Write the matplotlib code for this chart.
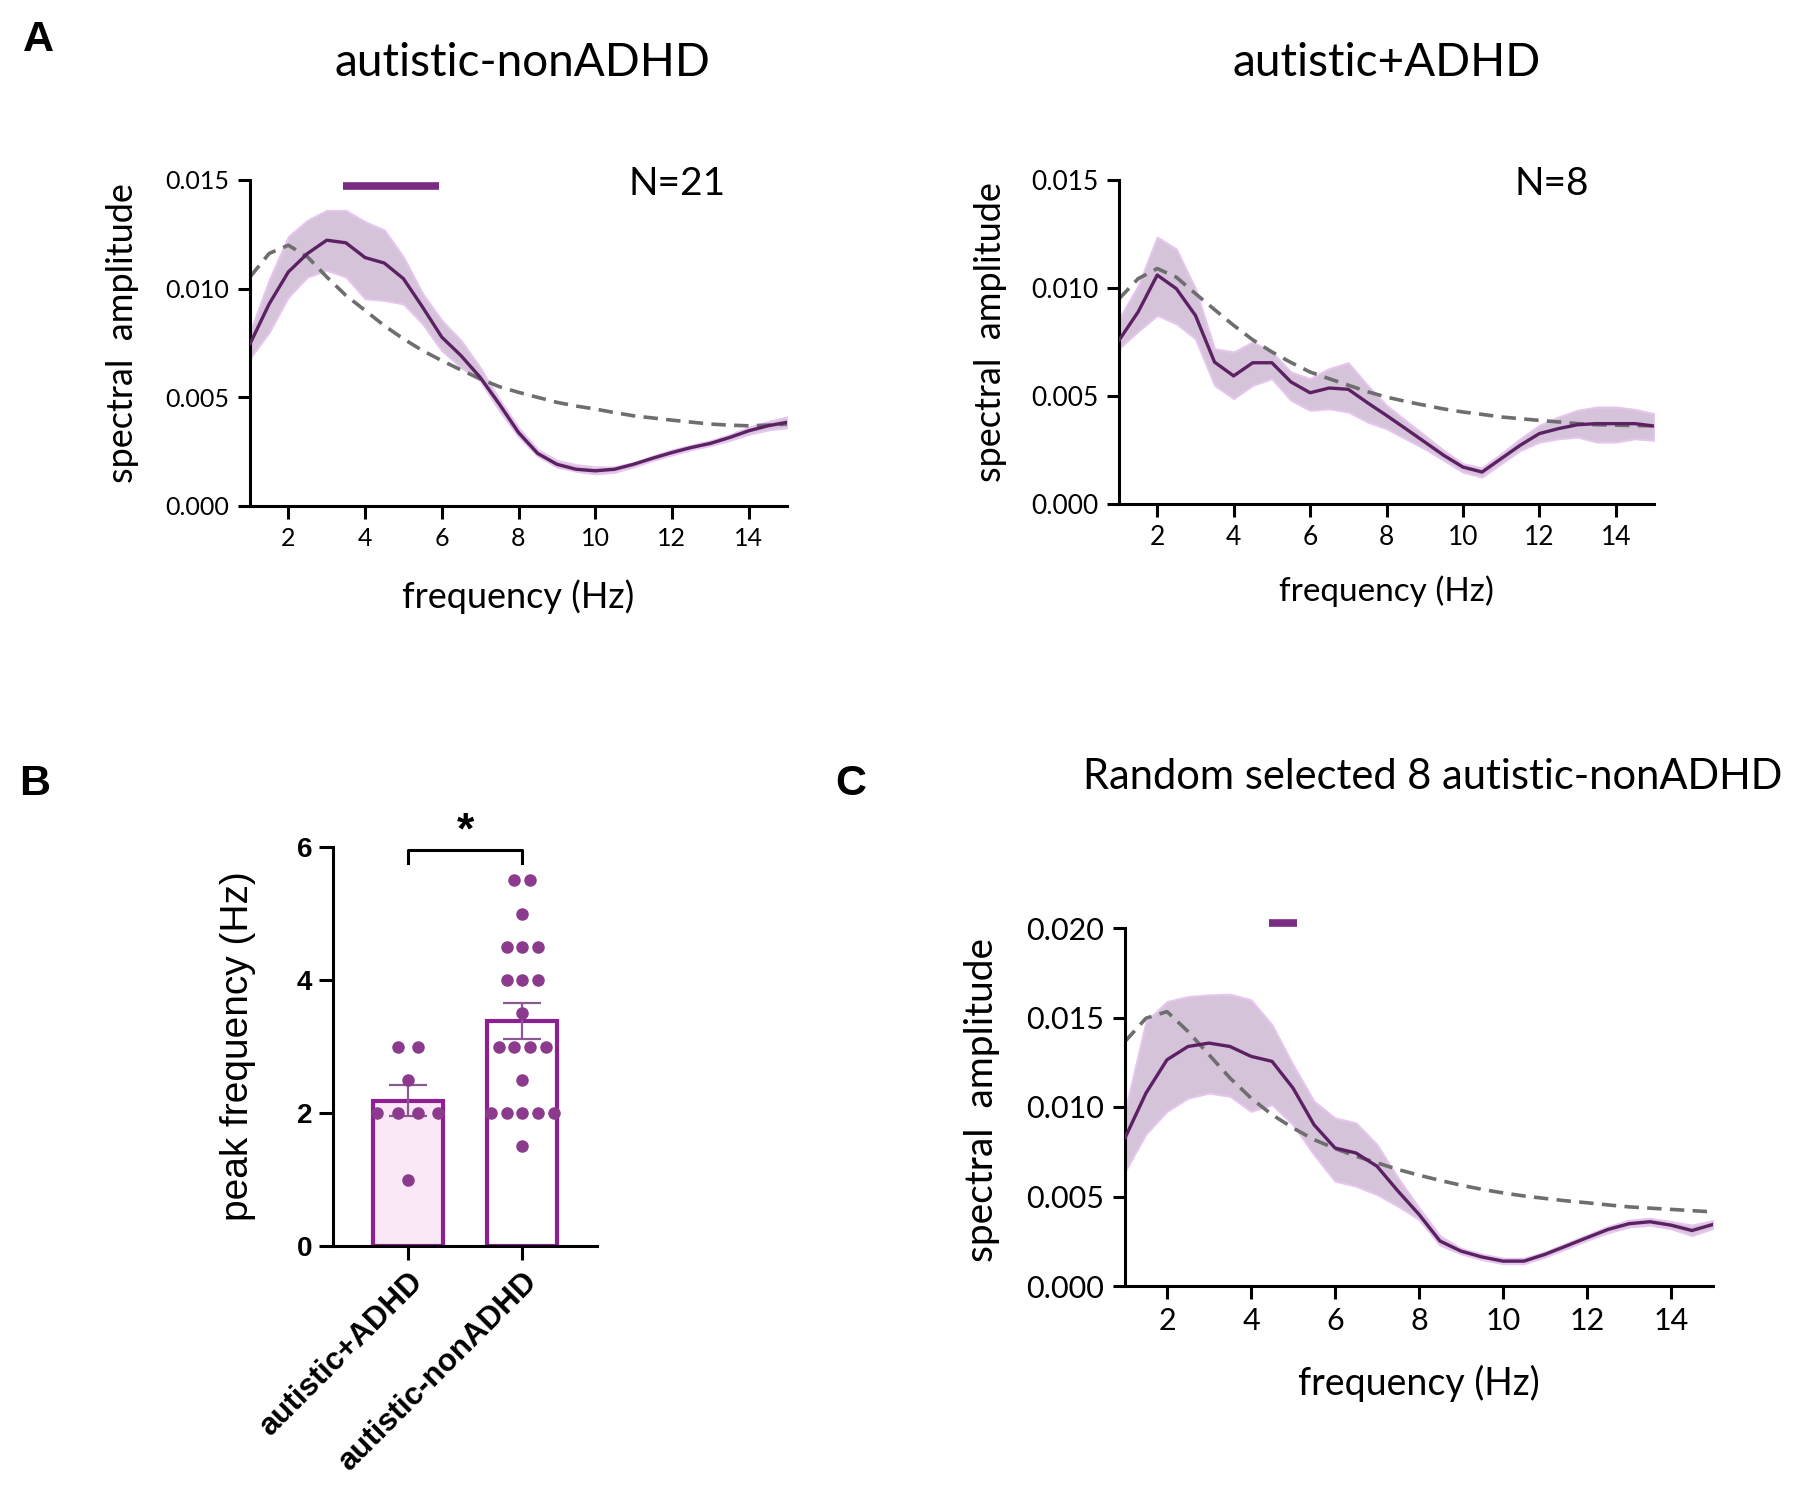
import numpy as np
import matplotlib
matplotlib.use("Agg")
import matplotlib.pyplot as plt

# ---------------- data ----------------
freq = [1, 1.5, 2, 2.5, 3, 3.5, 4, 4.5, 5, 5.5, 6, 6.5, 7, 7.5, 8, 8.5, 9, 9.5,
        10, 10.5, 11, 11.5, 12, 12.5, 13, 13.5, 14, 14.5, 15]

non_mean = [0.00746, 0.0093, 0.01077, 0.01162, 0.01223, 0.01211, 0.01143, 0.01118, 0.01046,
            0.00915, 0.00777, 0.00692, 0.00592, 0.00469, 0.00338, 0.00242, 0.00192, 0.00169,
            0.00162, 0.00169, 0.00192, 0.0022, 0.00246, 0.00269, 0.00288, 0.00315, 0.00346,
            0.00369, 0.00385]
non_upper = [0.0080, 0.0104, 0.0124, 0.01315, 0.0136, 0.0136, 0.01308, 0.0127, 0.01146,
             0.00977, 0.00854, 0.00762, 0.00638, 0.0049, 0.0036, 0.0026, 0.0021, 0.0019,
             0.0018, 0.0018, 0.0020, 0.0023, 0.00258, 0.0028, 0.0030, 0.00328, 0.00362,
             0.00388, 0.0041]
non_lower = [0.0068, 0.0080, 0.00962, 0.01054, 0.01085, 0.01054, 0.00954, 0.00946, 0.0093,
             0.00838, 0.00715, 0.00638, 0.00577, 0.0044, 0.0032, 0.0023, 0.0018, 0.0016,
             0.00148, 0.00155, 0.0018, 0.0021, 0.00235, 0.0026, 0.00278, 0.00302, 0.0033,
             0.0035, 0.0036]
non_fit = [0.01054, 0.01162, 0.0120, 0.01146, 0.01054, 0.00969, 0.0090, 0.0083, 0.00769,
           0.00715, 0.00669, 0.00626, 0.00585, 0.00549, 0.00523, 0.0050, 0.00477, 0.0046,
           0.00446, 0.0043, 0.00415, 0.00405, 0.00395, 0.00386, 0.00377, 0.00372, 0.00369,
           0.00372, 0.00377]

adhd_mean = [0.00758, 0.00889, 0.0106, 0.00997, 0.00873, 0.00657, 0.00593, 0.00654, 0.00654,
             0.00565, 0.00515, 0.00537, 0.00531, 0.00469, 0.0041, 0.00349, 0.00287, 0.00225,
             0.00171, 0.00148, 0.0021, 0.00272, 0.00326, 0.00349, 0.00367, 0.00372, 0.00372,
             0.00372, 0.00361]
adhd_upper = [0.00858, 0.0101, 0.01236, 0.0118, 0.00997, 0.00719, 0.00704, 0.0075, 0.00704,
              0.00611, 0.0058, 0.00627, 0.00654, 0.0055, 0.00457, 0.00387, 0.00318, 0.00248,
              0.00187, 0.00167, 0.00233, 0.00302, 0.00364, 0.00403, 0.00434, 0.00449, 0.00449,
              0.00438, 0.00418]
adhd_lower = [0.0072, 0.0080, 0.00873, 0.00835, 0.00765, 0.0055, 0.00488, 0.0055, 0.0058,
              0.0048, 0.00434, 0.00441, 0.00426, 0.0038, 0.00349, 0.00302, 0.00256, 0.00202,
              0.00148, 0.00125, 0.00187, 0.00248, 0.00287, 0.00302, 0.0031, 0.00287, 0.00287,
              0.00302, 0.00295]
adhd_fit = [0.0095, 0.01043, 0.0109, 0.0105, 0.00974, 0.0090, 0.00827, 0.0076, 0.00704,
            0.00655, 0.00611, 0.0058, 0.0055, 0.0052, 0.00495, 0.00475, 0.00457, 0.0044,
            0.00426, 0.00415, 0.00403, 0.00395, 0.00387, 0.0038, 0.00372, 0.00367, 0.00365,
            0.00363, 0.00362]

rand_mean = [0.00827, 0.01078, 0.01264, 0.01338, 0.01357, 0.01338, 0.01283, 0.01255, 0.01106,
             0.00901, 0.00771, 0.00743, 0.00669, 0.0053, 0.0040, 0.00251, 0.00195, 0.00162,
             0.00139, 0.00139, 0.00177, 0.00223, 0.0027, 0.00316, 0.00348, 0.00359, 0.0034,
             0.0031, 0.00344]
rand_upper = [0.00976, 0.01478, 0.01589, 0.01617, 0.01626, 0.0163, 0.01599, 0.01459, 0.01236,
              0.01032, 0.00939, 0.00911, 0.0079, 0.00604, 0.00437, 0.0028, 0.0021, 0.00178,
              0.00155, 0.00155, 0.0019, 0.00238, 0.00285, 0.00332, 0.00368, 0.00378, 0.0036,
              0.0034, 0.00365]
rand_lower = [0.00641, 0.0085, 0.00976, 0.0105, 0.01078, 0.0106, 0.00976, 0.01013, 0.00901,
              0.00734, 0.00586, 0.00558, 0.00511, 0.00446, 0.00372, 0.00228, 0.0018, 0.00148,
              0.00125, 0.00125, 0.00162, 0.00208, 0.00255, 0.00298, 0.0033, 0.0034, 0.0032,
              0.00282, 0.00322]
rand_fit = [0.01366, 0.01496, 0.01533, 0.01422, 0.01292, 0.01162, 0.0105, 0.00957, 0.00883,
            0.00818, 0.00768, 0.00725, 0.00688, 0.00651, 0.00619, 0.0059, 0.00563, 0.0054,
            0.0052, 0.00503, 0.00489, 0.00476, 0.00465, 0.00453, 0.00442, 0.00435, 0.00428,
            0.00421, 0.00414]

# significant frequency ranges (Hz) and y level of the marker
sig_nonadhd = [3.43, 5.93]
sig_nonadhd_y = 0.01472
sig_random = [4.44, 5.10]
sig_random_y = 0.02028

# Panel B: individual peak frequencies
groups = ["autistic+ADHD", "autistic-nonADHD"]
peak_adhd = [3, 3, 2.5, 2, 2, 2, 2, 1]
peak_nonadhd = [5.5, 5.5, 5, 4.5, 4.5, 4.5, 4, 4, 4, 3.5, 3, 3, 3, 3, 2.5,
                2, 2, 2, 2, 2, 1.5]

freq_ticks = [2, 4, 6, 8, 10, 12, 14]

# ---------------- style ----------------
W, H = 1800, 1506
CAL = ["Lato", "DejaVu Sans"]
ARI = ["Liberation Sans", "DejaVu Sans"]
LINE_C = "#5b2163"
BAND_C = "#d5c3da"
BAND_E = "#e6c6ee"
FIT_C = "#6e6e6e"
SIG_C = "#7a2c82"
BAR_E = "#8e1f93"
DOT_C = "#8c3a8d"

fig = plt.figure(figsize=(W / 100, H / 100), dpi=100)


def px_axes(l, t, r, b):
    return fig.add_axes([l / W, 1 - b / H, (r - l) / W, (b - t) / H])


def spectral_panel(ax, mean, upper, lower, fit, ymax, yticks, ytl, tick_fs, lab_fs,
                   xlab_fs, ylab_x, xlab_y):
    ax.fill_between(freq, lower, upper, color=BAND_C, edgecolor=BAND_E, lw=1.5, zorder=1)
    ax.plot(freq, fit, color=FIT_C, lw=2.6, dashes=(4, 2.3), zorder=2)
    ax.plot(freq, mean, color=LINE_C, lw=2.4, zorder=3)
    ax.set_xlim(1, 15)
    ax.set_ylim(0, ymax)
    ax.set_xticks(freq_ticks)
    ax.set_yticks(yticks)
    ax.set_yticklabels(ytl)
    for s in ["top", "right"]:
        ax.spines[s].set_visible(False)
    for s in ["left", "bottom"]:
        ax.spines[s].set_linewidth(2.2)
    ax.tick_params(axis="both", direction="out", length=9, width=2.2, pad=6)
    for lab in ax.get_xticklabels() + ax.get_yticklabels():
        lab.set_fontfamily(CAL)
        lab.set_fontsize(tick_fs)
    ax.set_xlabel("frequency (Hz)", fontsize=xlab_fs, family=CAL, va="center")
    ax.xaxis.set_label_coords(0.5, xlab_y)
    ax.set_ylabel("spectral  amplitude", fontsize=lab_fs, family=CAL, va="center")
    ax.yaxis.set_label_coords(ylab_x, 0.53)


# Panel A left
axA1 = px_axes(250, 180, 787, 506)
spectral_panel(axA1, non_mean, non_upper, non_lower, non_fit, 0.015,
               [0, 0.005, 0.010, 0.015], ["0.000", "0.005", "0.010", "0.015"],
               18, 26, 26, -0.237, -0.279)
axA1.plot(sig_nonadhd, [sig_nonadhd_y] * 2, color=SIG_C, lw=5.5,
          solid_capstyle="butt", clip_on=False, zorder=5)

# Panel A right
axA2 = px_axes(1119, 180, 1654, 504)
spectral_panel(axA2, adhd_mean, adhd_upper, adhd_lower, adhd_fit, 0.015,
               [0, 0.005, 0.010, 0.015], ["0.000", "0.005", "0.010", "0.015"],
               19, 26, 24, -0.241, -0.268)

# Panel C
axC = px_axes(1125, 928, 1713, 1286)
spectral_panel(axC, rand_mean, rand_upper, rand_lower, rand_fit, 0.020,
               [0, 0.005, 0.010, 0.015, 0.020],
               ["0.000", "0.005", "0.010", "0.015", "0.020"],
               22, 28, 27, -0.243, -0.271)
axC.yaxis.set_label_coords(-0.243, 0.52)
axC.plot(sig_random, [sig_random_y] * 2, color=SIG_C, lw=5.5,
         solid_capstyle="butt", clip_on=False, zorder=5)

# Panel B
axB = px_axes(333, 847, 597, 1246)
data_b = [peak_adhd, peak_nonadhd]
means = [np.mean(d) for d in data_b]
sems = [np.std(d, ddof=1) / np.sqrt(len(d)) for d in data_b]
fills = ["#fbe8f6", "white"]
xpos = np.arange(len(groups))
axB.bar(xpos, means, width=0.61, color=fills, edgecolor=BAR_E, linewidth=3.0, zorder=1)
axB.errorbar(xpos, means, yerr=sems, fmt="none", ecolor="#8a5a92", elinewidth=1.6,
             capsize=14, capthick=1.6, zorder=2)
spacing = [0.175, 0.138]
for gi, d in enumerate(data_b):
    vals = np.array(d, dtype=float)
    for v in np.unique(vals):
        n = int(np.sum(vals == v))
        offs = (np.arange(n) - (n - 1) / 2) * spacing[gi]
        axB.plot(gi + offs, [v] * n, "o", color=DOT_C, ms=8, mec=DOT_C, zorder=3,
                 clip_on=False)
axB.set_xlim(-0.65, 1.65)
axB.set_ylim(0, 6)
axB.set_yticks([0, 2, 4, 6])
axB.set_xticks(xpos)
axB.set_xticklabels(groups, rotation=45, ha="right", va="top", rotation_mode="anchor",
                    fontsize=22.5, fontweight="bold", family=ARI)
for lab in axB.get_yticklabels():
    lab.set_fontfamily(ARI)
    lab.set_fontsize(20)
    lab.set_fontweight("bold")
for s in ["top", "right"]:
    axB.spines[s].set_visible(False)
for s in ["left", "bottom"]:
    axB.spines[s].set_linewidth(2.2)
axB.tick_params(axis="both", direction="out", length=10, width=2.2, pad=5)
axB.set_ylabel("peak frequency (Hz)", fontsize=28, family=ARI, va="center")
axB.yaxis.set_label_coords(-0.36, 0.50)
# significance bracket
axB.plot([0, 0, 1, 1], [5.76, 5.95, 5.95, 5.76], color="black", lw=2.2, clip_on=False)
axB.text(0.5, 6.22, "*", ha="center", va="center", fontsize=32, fontweight="bold",
         family=ARI)

# ---------------- figure texts ----------------
def ftext(x, y, s, **kw):
    fig.text(x / W, 1 - y / H, s, **kw)


ftext(38, 40, "A", fontsize=31, fontweight="bold", family=ARI, ha="center", va="center")
ftext(35, 784, "B", fontsize=31, fontweight="bold", family=ARI, ha="center", va="center")
ftext(851, 784, "C", fontsize=31, fontweight="bold", family=ARI, ha="center", va="center")
ftext(522, 63, "autistic-nonADHD", fontsize=33, family=CAL, ha="center", va="center")
ftext(1387, 63, "autistic+ADHD", fontsize=33, family=CAL, ha="center", va="center")
ftext(1433, 777, "Random selected 8 autistic-nonADHD", fontsize=30, family=CAL,
      ha="center", va="center")
ftext(677, 184, "N=21", fontsize=28, family=CAL, ha="center", va="center")
ftext(1552, 184, "N=8", fontsize=28, family=CAL, ha="center", va="center")

fig.savefig("out.png", dpi=100, facecolor="white")
